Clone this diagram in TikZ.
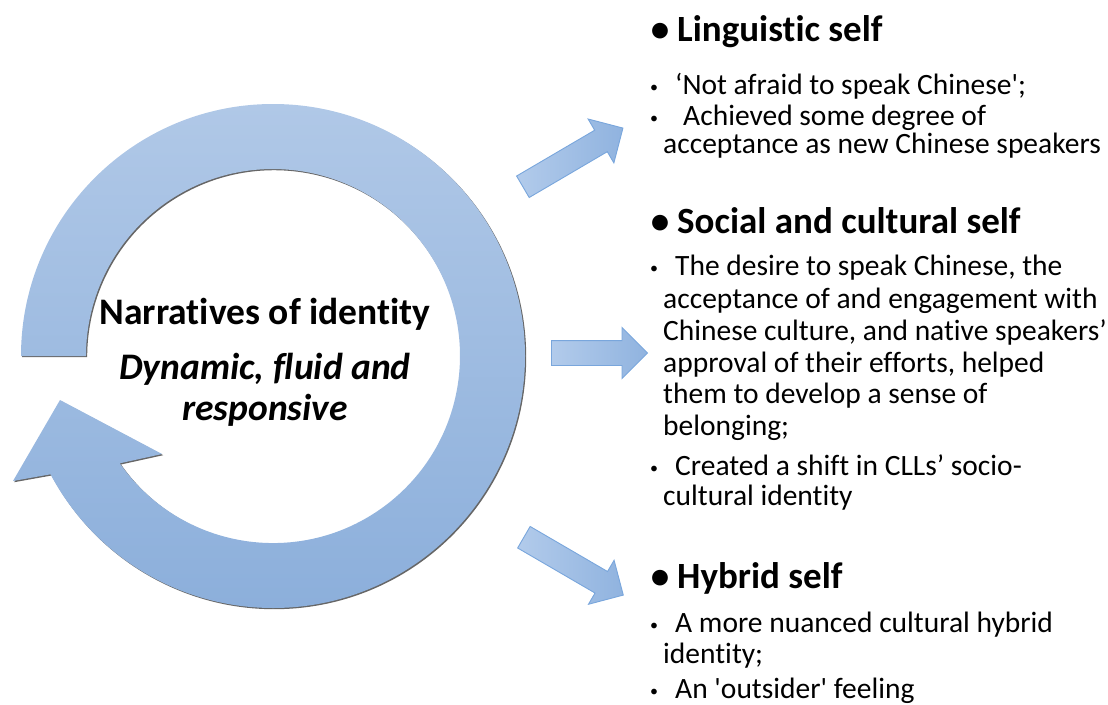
\documentclass[tikz,border=0pt]{standalone}
\usepackage{fontspec}
\setmainfont{Carlito}[Ligatures={TeXOff,CommonOff}]
\usetikzlibrary{shapes.arrows}
\definecolor{ringtop}{HTML}{B0C8E7}
\definecolor{ringbot}{HTML}{8CAFDB}
\definecolor{arrtail}{HTML}{B2CBEB}
\definecolor{arrhead}{HTML}{90B3DF}
\definecolor{arrline}{HTML}{79A6DC}
\newcommand\smallbul{{\fontsize{16}{16}\selectfont\raisebox{2pt}{•}}}
\newcommand\bigbul{•}
\begin{document}
\begin{tikzpicture}[x=1pt,y=1pt,
  blockarrow/.style={single arrow, draw=arrline, line width=0.9pt,
    left color=arrtail, right color=arrhead, minimum width=50pt,
    single arrow head extend=13pt, single arrow tip angle=90,
    inner xsep=0pt, inner ysep=12pt, anchor=tail},
  heading/.style={anchor=base west, inner sep=0pt,
    font=\fontsize{37}{42}\selectfont\bfseries},
  body/.style={anchor=base west, inner sep=0pt,
    font=\fontsize{29.5}{33}\selectfont},
  centre/.style={anchor=base, inner sep=0pt,
    font=\fontsize{37.5}{42}\selectfont\bfseries}]
\useasboundingbox (0,0) rectangle (1108,-704);

% circular arrow around the central statement
\def\ringpath{(21,-356) arc[start angle=180,end angle=-152,radius=252]
  -- (13,-481) -- (60,-400) -- (162,-454) -- (119.8,-463.3)
  arc[start angle=-145,end angle=180,radius=187] -- cycle}
\fill[black!60, shift={(1.2,-1.2)}] \ringpath;
\shade[top color=ringtop, bottom color=ringbot] \ringpath;

\node[centre] (nar) at (265,-324) {Narratives of identity};
\node[centre] (dyn) at (265,-379) {\itshape Dynamic, fluid and};
\node[centre] (resp) at (265,-420) {\itshape responsive};

% block arrows towards the three selves
\node[blockarrow, minimum height=116pt, rotate=30.4] (arrLing) at (522.5,-187) {};
\node[blockarrow, minimum height=96pt] (arrSoc) at (551,-353) {};
\node[blockarrow, minimum height=115pt, rotate=-30.2] (arrHyb) at (523.5,-537) {};

% linguistic self
\node[heading] (hLing) at (677,-41) {\llap{\bigbul\hspace{8pt}}Linguistic self};
\node[body] (ling1) at (675,-94) {\llap{\smallbul\hspace{17pt}}‘Not afraid to speak Chinese';};
\node[body] (ling2) at (683,-125) {\llap{\smallbul\hspace{25pt}}Achieved some degree of};
\node[body] (ling3) at (663,-153) {acceptance as new Chinese speakers};

% social and cultural self
\node[heading] (hSoc) at (677,-233) {\llap{\bigbul\hspace{8pt}}Social and cultural self};
\node[body] (soc1) at (675,-275) {\llap{\smallbul\hspace{17pt}}The desire to speak Chinese, the};
\node[body] (soc2) at (663,-308) {acceptance of and engagement with};
\node[body] (soc3) at (663,-340) {Chinese culture, and native speakers’};
\node[body] (soc4) at (663,-372) {approval of their efforts, helped};
\node[body] (soc5) at (663,-403) {them to develop a sense of};
\node[body] (soc6) at (663,-435) {belonging;};
\node[body] (soc7) at (675,-475) {\llap{\smallbul\hspace{17pt}}Created a shift in CLLs’ socio-};
\node[body] (soc8) at (663,-505) {cultural identity};

% hybrid self
\node[heading] (hHyb) at (677,-588) {\llap{\bigbul\hspace{8pt}}Hybrid self};
\node[body] (hyb1) at (675,-632) {\llap{\smallbul\hspace{17pt}}A more nuanced cultural hybrid};
\node[body] (hyb2) at (663,-663) {identity;};
\node[body] (hyb3) at (675,-698) {\llap{\smallbul\hspace{17pt}}An 'outsider' feeling};
\end{tikzpicture}
\end{document}
